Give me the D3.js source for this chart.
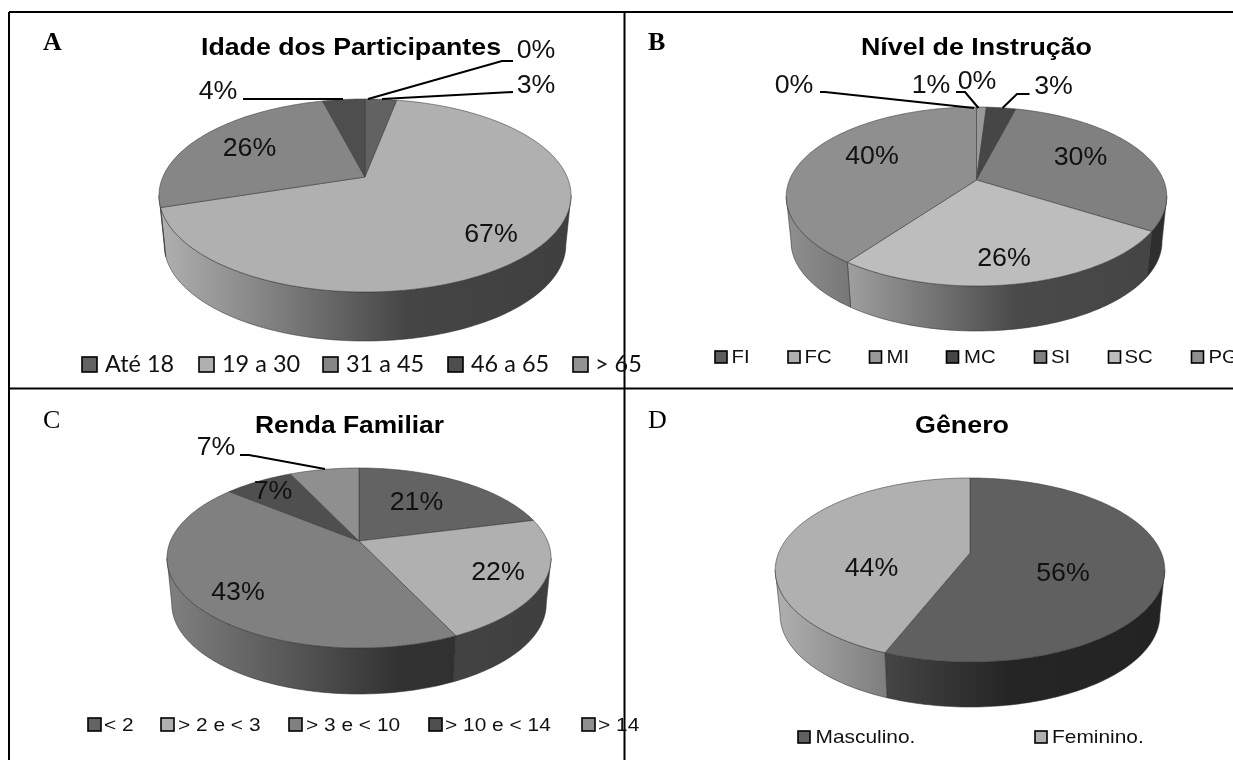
<!DOCTYPE html>
<html>
<head>
<meta charset="utf-8">
<script src="https://cdn.jsdelivr.net/npm/d3@7/dist/d3.min.js"></script>
<style>
html, body { margin: 0; padding: 0; background: #fff; overflow: hidden; }
svg { display: block; filter: blur(0.4px); }
text { font-family: "Liberation Sans", Arial, sans-serif; fill: #111; }
.panel { font-family: "Liberation Serif", serif; fill: #000; font-size: 26px; }
.title { font-weight: bold; font-size: 24.5px; fill: #000; }
.lab { font-size: 25px; }
</style>
</head>
<body>
<svg id="chart" width="1233" height="760"></svg>
<script>
// data
var idadeCats = ["Até 18", "19 a 30", "31 a 45", "46 a 65", "> 65"];
var idadeVals = [3, 67, 26, 4, 0];
var idadeCols = ["#626262", "#b0b0b0", "#868686", "#4e4e4e", "#929292"];

var instrCats = ["FI", "FC", "MI", "MC", "SI", "SC", "PG"];
var instrVals = [0, 0, 1, 3, 30, 26, 40];
var instrCols = ["#5c5c5c", "#b0b0b0", "#999999", "#464646", "#808080", "#bdbdbd", "#8f8f8f"];

var rendaCats = ["< 2", "> 2 e < 3", "> 3 e < 10", "> 10 e < 14", "> 14"];
var rendaVals = [21, 22, 43, 7, 7];
var rendaCols = ["#636363", "#b0b0b0", "#808080", "#4f4f4f", "#8f8f8f"];

var generoCats = ["Masculino.", "Feminino."];
var generoVals = [56, 44];
var generoCols = ["#606060", "#b0b0b0"];

// layout of each pie: apex, left/right, top/bottom of the top face, bottom of wall
var idadeGeo = {x: 365, y: 177, left: 160, right: 572, top: 99, bottom: 292, base: 341};
var instrGeo = {x: 976.5, y: 180, left: 787, right: 1167.5, top: 107, bottom: 286, base: 331};
var rendaGeo = {x: 359, y: 541, left: 167.5, right: 551.5, top: 468, bottom: 648, base: 694};
var generoGeo = {x: 970, y: 553, left: 775, right: 1164.5, top: 478, bottom: 662, base: 707};

// labels: text, centre x, baseline
var idadeLabs = [["0%", 536, 58], ["3%", 536, 93], ["4%", 218, 99], ["26%", 249.5, 156], ["67%", 491, 242]];
var instrLabs = [["0%", 794, 93], ["1%", 931, 93], ["0%", 977, 89], ["3%", 1053.5, 94], ["40%", 872, 164], ["30%", 1080.5, 165], ["26%", 1004, 266]];
var rendaLabs = [["7%", 216, 455], ["7%", 273, 499], ["21%", 416.5, 510], ["22%", 498, 580], ["43%", 238, 600]];
var generoLabs = [["44%", 871.5, 576], ["56%", 1063, 581]];

var idadeLeaders = [[[513, 61], [502, 61], [368, 99]], [[513, 92], [382, 99]], [[243, 99], [343, 99]]];
var instrLeaders = [[[820, 92], [825, 92], [974, 108]], [[956, 92], [965, 92], [978.5, 108]], [[1029.5, 94], [1017, 94], [1002.5, 108]]];
var rendaLeaders = [[[240, 455], [249, 455], [325, 469]]];

var svg = d3.select("#chart");
var defs = svg.append("defs");
var gradId = 0;

// rim shading, darker to the right of the pie
var shade = d3.scaleLinear().domain([0, 0.28, 0.6, 1]).range([1, 0.72, 0.39, 0.36]);

var pieGen = d3.pie().sort(null).value(function(d) { return d; });

// pushes text wider, the picture was stretched a bit
var widen = function(sel, f)
{
    sel.each(function()
    {
        var len = this.getComputedTextLength() * f;
        d3.select(this).attr("textLength", len).attr("lengthAdjust", "spacingAndGlyphs");
    });
}

var drawPie = function(geo, vals, cols)
{
    var g = svg.append("g");
    var hi = geo.bottom - geo.y, lo = geo.y - geo.top;
    var k = (hi - lo) / (hi + lo);       // perspective of the disc
    var a = hi * (1 - k);
    var rx = (geo.right - geo.left) / 2;
    var cx = (geo.right + geo.left) / 2;
    var b = rx * Math.sqrt(1 - k * k);
    var depth = geo.base - geo.bottom;

    var project = function(t)
    {
        var u = Math.sin(t), v = -Math.cos(t), w = 1 - k * v;
        return [geo.x + b * u / w, geo.y + a * v / w];
    }
    var lower = function(t)
    {
        var p = project(t);
        return [cx + (p[0] - cx) * 0.975, p[1] + depth];
    }
    var samples = function(t0, t1)
    {
        var n = Math.max(2, Math.ceil((t1 - t0) / 0.02));
        return d3.range(n + 1).map(function(i) { return t0 + (t1 - t0) * i / n; });
    }
    var line = d3.line();
    var arcs = pieGen(vals);
    var tR = Math.acos(-k), tL = 2 * Math.PI - tR;

    // wall
    arcs.forEach(function(d, i)
    {
        var t0 = Math.max(d.startAngle, tR), t1 = Math.min(d.endAngle, tL);
        if (t1 <= t0) return;
        var id = "rim" + (gradId++);
        var base = d3.rgb(cols[i]);
        var grad = defs.append("linearGradient").attr("id", id)
                       .attr("gradientUnits", "userSpaceOnUse")
                       .attr("x1", geo.left).attr("x2", geo.right).attr("y1", 0).attr("y2", 0);
        shade.domain().forEach(function(s)
        {
            var f = shade(s);
            grad.append("stop").attr("offset", s)
                .attr("stop-color", d3.rgb(base.r * f, base.g * f, base.b * f).formatHex());
        });
        var ts = samples(t0, t1);
        var pts = ts.map(project).concat(ts.slice().reverse().map(lower));
        g.append("path").attr("d", line(pts) + "Z")
         .attr("fill", "url(#" + id + ")")
         .attr("stroke", "#333").attr("stroke-width", 0.7).attr("stroke-opacity", 0.8);
    });

    // top face
    arcs.forEach(function(d, i)
    {
        if (d.endAngle <= d.startAngle) return;
        var pts = [[geo.x, geo.y]].concat(samples(d.startAngle, d.endAngle).map(project));
        g.append("path").attr("d", line(pts) + "Z")
         .attr("fill", cols[i])
         .attr("stroke", "#3a3a3a").attr("stroke-width", 0.7).attr("stroke-opacity", 0.8)
         .attr("stroke-linejoin", "round");
    });
}

var drawLabels = function(labs)
{
    svg.append("g").selectAll("text").data(labs).enter().append("text")
       .attr("class", "lab")
       .attr("x", function(d) { return d[1]; })
       .attr("y", function(d) { return d[2]; })
       .attr("text-anchor", "middle")
       .text(function(d) { return d[0]; })
       .call(widen, 1.07);
}

var drawLeaders = function(leaders)
{
    svg.append("g").selectAll("path").data(leaders).enter().append("path")
       .attr("d", d3.line())
       .attr("fill", "none").attr("stroke", "#000").attr("stroke-width", 2);
}

var drawLegend = function(cats, cols, sx, tx, y, opt)
{
    var g = svg.append("g");
    cats.forEach(function(c, i)
    {
        g.append("rect").attr("x", sx[i]).attr("y", y - opt.box)
         .attr("width", opt.box).attr("height", opt.box)
         .attr("fill", cols[i]).attr("stroke", "#000").attr("stroke-width", 1.6);
        g.append("text").attr("x", tx[i]).attr("y", y)
         .style("font-family", opt.font).style("font-size", opt.size + "px")
         .text(c).call(widen, opt.widen);
    });
}

var drawTitle = function(s, x0, x1, y)
{
    svg.append("text").attr("class", "title").attr("x", x0).attr("y", y)
       .attr("textLength", x1 - x0).attr("lengthAdjust", "spacingAndGlyphs").text(s);
}

// A
drawPie(idadeGeo, idadeVals, idadeCols);
drawLeaders(idadeLeaders);
drawLabels(idadeLabs);
drawTitle("Idade dos Participantes", 201, 501, 55);

// B
drawPie(instrGeo, instrVals, instrCols);
drawLeaders(instrLeaders);
drawLabels(instrLabs);
drawTitle("Nível de Instrução", 861, 1092, 55);

// C
drawPie(rendaGeo, rendaVals, rendaCols);
drawLeaders(rendaLeaders);
drawLabels(rendaLabs);
drawTitle("Renda Familiar", 255, 444, 433);

// D
drawPie(generoGeo, generoVals, generoCols);
drawLabels(generoLabs);
drawTitle("Gênero", 915, 1009, 433);

// table rules
var rules = [[[9, 12], [9, 760]], [[9, 12], [1233, 12]], [[9, 388.5], [1233, 388.5]], [[624.5, 12], [624.5, 760]]];
svg.append("g").selectAll("path").data(rules).enter().append("path")
   .attr("d", d3.line()).attr("stroke", "#000").attr("stroke-width", 2);

// legends go over the rules
drawLegend(idadeCats, idadeCols, [82, 199, 323, 448, 573], [105, 222, 346, 471, 595], 372,
           {box: 15, font: "Lato", size: 23, widen: 1.02});
drawLegend(instrCats, instrCols, [715, 788, 869.5, 946.5, 1034.5, 1108.5, 1191.5], [731.5, 804.5, 886.5, 964, 1051, 1124.5, 1208.5], 363,
           {box: 12, font: "Liberation Sans", size: 19, widen: 1.07});
drawLegend(rendaCats, rendaCols, [88, 161, 289, 429, 582], [104, 178, 306, 445, 598], 731,
           {box: 13, font: "Liberation Sans", size: 19, widen: 1.1});
drawLegend(generoCats, generoCols, [798, 1035], [815.5, 1052], 743,
           {box: 12, font: "Liberation Sans", size: 19, widen: 1.1});

// panel letters
var panelLetters = ["A", "B", "C", "D"];
var panelX = [43, 648, 43, 648];
var panelY = [50, 50, 428, 428];
var panelWeight = ["bold", "bold", "normal", "normal"];
svg.append("g").selectAll("text").data(panelLetters).enter().append("text")
   .attr("class", "panel")
   .attr("x", function(d, i) { return panelX[i]; })
   .attr("y", function(d, i) { return panelY[i]; })
   .style("font-weight", function(d, i) { return panelWeight[i]; })
   .text(function(d) { return d; });
</script>
</body>
</html>
